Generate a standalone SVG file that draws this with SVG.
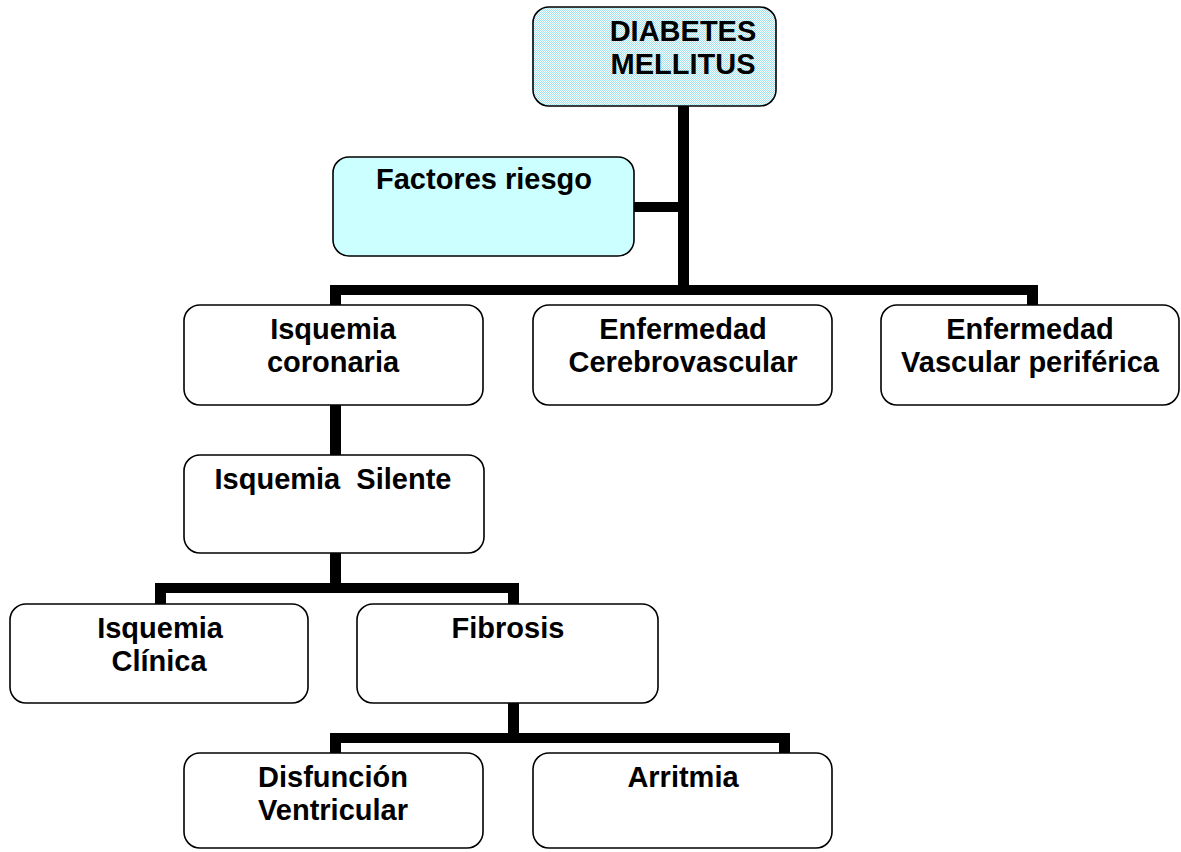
<svg xmlns="http://www.w3.org/2000/svg" width="1181" height="852" viewBox="0 0 1181 852">
<style>
.box{fill:#fff;stroke:#000;stroke-width:1.6}
.t{font-family:"Liberation Sans",Arial,sans-serif;font-weight:bold;font-size:29px;fill:#000;text-anchor:middle}
.c{fill:#000}
</style>
<defs>
<pattern id="dots" width="2" height="2" patternUnits="userSpaceOnUse">
<rect width="2" height="2" fill="#ffffff"/>
<rect width="1" height="1" fill="#9fe3ef"/>
<rect x="1" y="1" width="1" height="1" fill="#9fe3ef"/>
</pattern>
</defs>
<rect width="1181" height="852" fill="#fff"/>
<g id="connectors">
<rect class="c" x="678" y="105" width="11" height="190"/>
<rect class="c" x="633" y="202" width="50" height="10"/>
<rect class="c" x="330" y="285" width="707" height="10"/>
<rect class="c" x="330" y="285" width="11" height="21"/>
<rect class="c" x="1027" y="285" width="11" height="21"/>
<rect class="c" x="330" y="404" width="11" height="52"/>
<rect class="c" x="330" y="552" width="11" height="40"/>
<rect class="c" x="155" y="583" width="364" height="10"/>
<rect class="c" x="155" y="583" width="11" height="22"/>
<rect class="c" x="508" y="583" width="11" height="22"/>
<rect class="c" x="508" y="702" width="11" height="41"/>
<rect class="c" x="330" y="733" width="460" height="10"/>
<rect class="c" x="330" y="733" width="11" height="21"/>
<rect class="c" x="779" y="733" width="11" height="21"/>
</g>
<g id="diabetes">
<rect x="533" y="7" width="243" height="99" rx="16" fill="url(#dots)" stroke="#000" stroke-width="1.6"/>
<text class="t" x="683" y="41">DIABETES</text>
<text class="t" x="683" y="74">MELLITUS</text>
</g>
<g id="factores">
<rect x="333" y="157" width="301" height="99" rx="16" fill="#ccffff" stroke="#000" stroke-width="1.6"/>
<text class="t" x="484" y="189">Factores riesgo</text>
</g>
<g id="isquemia-coronaria">
<rect class="box" x="184" y="305" width="299" height="100" rx="16"/>
<text class="t" x="333" y="339">Isquemia</text>
<text class="t" x="333" y="372">coronaria</text>
</g>
<g id="cerebrovascular">
<rect class="box" x="533" y="305" width="299" height="100" rx="16"/>
<text class="t" x="683" y="339">Enfermedad</text>
<text class="t" x="683" y="372">Cerebrovascular</text>
</g>
<g id="vascular-periferica">
<rect class="box" x="881" y="305" width="298" height="100" rx="16"/>
<text class="t" x="1030" y="339">Enfermedad</text>
<text class="t" x="1030" y="372">Vascular periférica</text>
</g>
<g id="isquemia-silente">
<rect class="box" x="184" y="455" width="300" height="98" rx="16"/>
<text class="t" x="333" y="489" xml:space="preserve">Isquemia  Silente</text>
</g>
<g id="isquemia-clinica">
<rect class="box" x="10" y="604" width="298" height="99" rx="16"/>
<text class="t" x="160" y="638">Isquemia</text>
<text class="t" x="159" y="671">Clínica</text>
</g>
<g id="fibrosis">
<rect class="box" x="357" y="604" width="301" height="99" rx="16"/>
<text class="t" x="508" y="638">Fibrosis</text>
</g>
<g id="disfuncion">
<rect class="box" x="184" y="753" width="299" height="95" rx="16"/>
<text class="t" x="333" y="787">Disfunción</text>
<text class="t" x="333" y="820">Ventricular</text>
</g>
<g id="arritmia">
<rect class="box" x="533" y="753" width="299" height="95" rx="16"/>
<text class="t" x="683" y="787">Arritmia</text>
</g>
</svg>
